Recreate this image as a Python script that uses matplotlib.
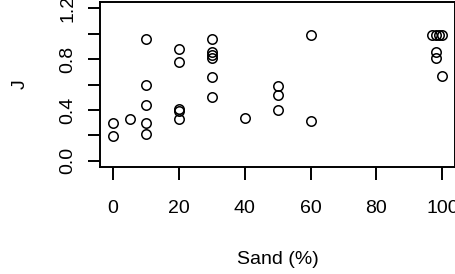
import matplotlib
matplotlib.use("Agg")
import matplotlib.pyplot as plt

# sand percentage and J values
sand = [0, 0, 5,
        10, 10, 10, 10, 10,
        20, 20, 20, 20, 20,
        30, 30, 30, 30, 30, 30,
        40,
        50, 50, 50,
        60, 60,
        97, 98, 99, 100, 98, 98, 100]
j_vals = [0.295, 0.196, 0.33,
          0.96, 0.60, 0.44, 0.295, 0.21,
          0.88, 0.78, 0.41, 0.39, 0.33,
          0.96, 0.855, 0.83, 0.81, 0.66, 0.50,
          0.34,
          0.59, 0.52, 0.40,
          0.99, 0.31,
          0.99, 0.99, 0.99, 0.99, 0.855, 0.81, 0.665]

x_ticks = [0, 20, 40, 60, 80, 100]
y_ticks = [0.0, 0.2, 0.4, 0.6, 0.8, 1.0, 1.2]
y_labels = ["0.0", "", "0.4", "", "0.8", "", "1.2"]

plt.rcParams["font.family"] = ["Liberation Sans", "DejaVu Sans"]

fig = plt.figure(figsize=(4.56, 2.74), dpi=100)
ax = fig.add_axes([100 / 456, 107 / 274, 355.5 / 456, 165 / 274])

ax.plot(sand, j_vals, linestyle="none", marker="o", markersize=6.8,
        markerfacecolor="none", markeredgecolor="black", markeredgewidth=1.1)

ax.set_xlim(-4, 104)
ax.set_ylim(-0.048, 1.248)
ax.set_xticks(x_ticks)
ax.set_yticks(y_ticks)
ax.set_yticklabels(y_labels, rotation=90, va="center")

for s in ax.spines.values():
    s.set_linewidth(1.4)
ax.tick_params(axis="both", length=9, width=1.4, labelsize=14)
ax.tick_params(axis="x", pad=15)
ax.tick_params(axis="y", pad=8)

ax.set_xlabel("Sand (%)", fontsize=14, labelpad=24)
ax.set_ylabel("J", fontsize=14, labelpad=22)

fig.savefig("out.png", dpi=100)
